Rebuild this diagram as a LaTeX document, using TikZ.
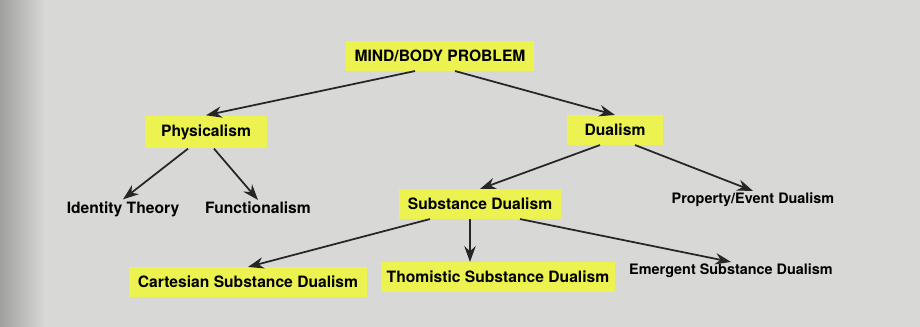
\documentclass[tikz,border=0pt]{standalone}
\usepackage{fontspec}
\setmainfont{TeX Gyre Heros}
\usetikzlibrary{arrows.meta}
\definecolor{page}{RGB}{216,216,214}
\definecolor{pageedge}{RGB}{160,160,158}
\definecolor{marker}{RGB}{236,243,80}

\begin{document}
\begin{tikzpicture}[x=0.02cm,y=-0.02cm,
    label/.style={font=\fontsize{8.9}{10}\selectfont\bfseries, inner sep=1pt},
    farlabel/.style={font=\fontsize{8.2}{10}\selectfont\bfseries, inner sep=1pt},
    hilite/.style={label, fill=marker, inner xsep=5pt, inner ysep=5pt},
    arr/.style={-{Stealth[length=9pt,width=6.5pt]}, line width=1pt, black!85}]
     \fill[page] (0,0) rectangle (920,327);
     \shade[left color=pageedge, right color=page] (0,0) rectangle (45,327);
     \useasboundingbox (0,0) rectangle (920,327);

     \node[hilite] (mbp) at (440, 56) {MIND/BODY PROBLEM};
     \node[hilite, inner xsep=9pt] (phys) at (206, 132) {Physicalism};
     \node[hilite, inner xsep=10pt] (dual) at (615, 130) {Dualism};

     \node[label] (ident) at (123, 209) {Identity Theory};
     \node[label] (func) at (258, 208) {Functionalism};
     \node[hilite] (subst) at (480, 204) {Substance Dualism};
     \node[farlabel] (prop) at (753, 200) {Property/Event Dualism};

     \node[hilite] (cart) at (248, 282) {Cartesian Substance Dualism};
     \node[hilite, inner xsep=3pt] (thom) at (498, 277) {Thomistic Substance Dualism};
     \node[farlabel] (emer) at (731, 271) {Emergent Substance Dualism};

     % start points under each parent
     \path (mbp.south) ++(-25,0) coordinate (m1);
     \path (mbp.south) ++(15,0) coordinate (m2);
     \path (phys.south) ++(-18,0) coordinate (p1);
     \path (phys.south) ++(8,0) coordinate (p2);
     \path (dual.south) ++(-15,0) coordinate (d1);
     \path (dual.south) ++(20,0) coordinate (d2);
     \path (subst.south) ++(-50,0) coordinate (s1);
     \path (subst.south) ++(-10,0) coordinate (s2);
     \path (subst.south) ++(40,0) coordinate (s3);

     \draw[arr] (m1) -- (phys.north);
     \draw[arr] (m2) -- (dual.north);
     \draw[arr] (p1) -- (ident.north);
     \draw[arr] (p2) -- (func.north);
     \draw[arr] (d1) -- (subst.north);
     \draw[arr] (d2) -- (prop.north);
     \draw[arr] (s1) -- (cart.north);
     \draw[arr] (s2) -- (s2 |- thom.north);
     \draw[arr] (s3) -- (emer.north);
    \end{tikzpicture}
\end{document}
